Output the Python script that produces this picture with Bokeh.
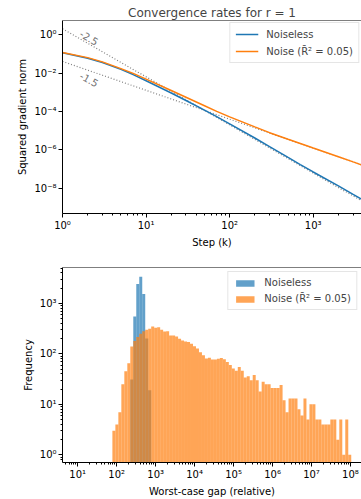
import numpy as np
from bokeh.plotting import figure
from bokeh.layouts import column
from bokeh.models import (FixedTicker, CustomJSTickFormatter, Legend, LegendItem,
                          Span, Range1d, ColumnDataSource)
from bokeh.core.properties import value
from bokeh.embed import file_html
from bokeh.resources import INLINE

# ---------------- data: convergence curves ----------------
steps = [1, 2, 3, 5, 7, 10, 20, 30, 50, 70, 100, 200, 300, 500, 700,
         1000, 2000, 3000, 4000]
noiseless = [0.112, 0.0589, 0.0355, 0.0155, 0.00832, 0.00398, 9.12e-4,
             3.72e-4, 1.17e-4, 5.37e-5, 2.3e-5, 4.2e-6, 1.5e-6, 4.1e-7,
             1.75e-7, 7.2e-8, 1.35e-8, 4.9e-9, 2.45e-9]
noisy = [0.117, 0.0631, 0.038, 0.017, 0.00955, 0.00479, 1.23e-3, 5.5e-4,
         2.0e-4, 1.02e-4, 5.25e-5, 1.58e-5, 7.94e-6, 3.63e-6, 2.19e-6,
         1.26e-6, 4.47e-7, 2.40e-7, 1.55e-7]
ref_steps = [1, 4000]
ref_rate_25 = [2.0, 1.98e-9]
ref_rate_15 = [0.04, 1.58e-7]
ref_labels = ["-2.5", "-1.5"]
ref_label_k = [2.09, 2.09]
ref_label_v = [0.687, 0.00468]

# ---------------- data: histogram ----------------
bin_lo_exp, bin_hi_exp, n_bins = 1.89, 8.02, 80
noise_counts = [3, 4, 7, 25, 45, 65, 140, 180, 215, 250,
                280, 300, 313, 348, 328, 337, 300, 277, 281, 231,
                231, 221, 199, 184, 176, 171, 159, 141, 127, 108,
                94, 81, 84, 77, 77, 80, 83, 78, 69, 60,
                51, 46, 55, 46, 34, 36, 30, 38, 30, 18,
                28, 25, 25, 21, 21, 21, 24, 12, 7, 13,
                13, 13, 8, 6, 13, 5, 10, 10, 5, 5,
                4, 4, 4, 5, 5, 2, 5, 1, 5, 1]
noiseless_first_bin = 6
noiseless_counts = [31, 550, 2400, 3350, 1530, 200, 19]

BLUE = "#1f77b4"
ORANGE = "#ff7f0e"
FONT = "DejaVu Sans"

sup_js = """
const sup = {'0':'\u2070','1':'\u00b9','2':'\u00b2','3':'\u00b3','4':'\u2074',
             '5':'\u2075','6':'\u2076','7':'\u2077','8':'\u2078','9':'\u2079','-':'\u207b'};
const e = Math.round(Math.log10(tick));
return '10' + String(e).split('').map(c => sup[c]).join('');
"""


def minor_list(d0, d1):
    out = []
    for d in range(d0, d1 + 1):
        for m in range(2, 10):
            out.append(m * 10.0 ** d)
    return out


def style_axes(p):
    for ax in (p.xaxis[0], p.yaxis[0]):
        ax.axis_line_color = "black"
        ax.axis_line_width = 1
        ax.major_tick_line_color = "black"
        ax.minor_tick_line_color = "black"
        ax.major_tick_in = 0
        ax.major_tick_out = 4
        ax.minor_tick_in = 0
        ax.minor_tick_out = 2
        ax.major_label_text_font = FONT
        ax.major_label_text_font_size = "10px"
        ax.major_label_text_color = "black"
        ax.axis_label_text_font = FONT
        ax.axis_label_text_font_size = "10px"
        ax.axis_label_text_font_style = "normal"
        ax.axis_label_text_color = "black"
        ax.major_label_standoff = 2
        ax.axis_label_standoff = 3
        ax.formatter = CustomJSTickFormatter(code=sup_js)
    p.xgrid.visible = False
    p.ygrid.visible = False
    p.outline_line_color = None
    p.background_fill_color = "white"
    p.border_fill_color = "white"


def style_legend(leg, glyph_h, margin):
    leg.label_text_font = FONT
    leg.label_text_font_size = "10px"
    leg.glyph_width = 23
    leg.glyph_height = glyph_h
    leg.label_standoff = 8
    leg.padding = 5
    leg.spacing = 5
    leg.margin = margin
    leg.border_line_color = "#cccccc"
    leg.background_fill_alpha = 0.85


# ---------------- top figure ----------------
y1 = (5.0e-10, 5.37)
p1 = figure(width=361, height=250, x_axis_type="log", y_axis_type="log",
            x_range=Range1d(1, 3780), y_range=Range1d(*y1),
            output_backend="svg", toolbar_location=None,
            min_border_left=62, min_border_right=0, min_border_top=20,
            min_border_bottom=33)
p1.title.text = "Convergence rates for r = 1"
p1.title.align = "center"
p1.title.text_font = FONT
p1.title.text_font_size = "12px"
p1.title.text_font_style = "normal"
p1.title.standoff = 2

style_axes(p1)
p1.xaxis.ticker = FixedTicker(ticks=[1, 10, 100, 1000], minor_ticks=minor_list(0, 3))
p1.yaxis.ticker = FixedTicker(ticks=[1, 1e-2, 1e-4, 1e-6, 1e-8], minor_ticks=[])
p1.xaxis.axis_label = "Step (k)"
p1.yaxis.axis_label = "Squared gradient norm"
p1.add_layout(Span(location=y1[1], dimension="width", line_color="black", line_width=1))

p1.line(ref_steps, ref_rate_25, line_color="#808080", line_width=1.2, line_dash="1 2")
p1.line(ref_steps, ref_rate_15, line_color="#808080", line_width=1.2, line_dash="1 2")
p1.text(x=ref_label_k[:1], y=ref_label_v[:1], text=ref_labels[:1], angle=-0.55,
        text_align="center", text_baseline="middle", text_color="#707070",
        text_font=value(FONT), text_font_size="10px")
p1.text(x=ref_label_k[1:], y=ref_label_v[1:], text=ref_labels[1:], angle=-0.5,
        text_align="center", text_baseline="middle", text_color="#707070",
        text_font=value(FONT), text_font_size="10px")
r_blue = p1.line(steps, noiseless, line_color=BLUE, line_width=1.5)
r_orange = p1.line(steps, noisy, line_color=ORANGE, line_width=1.5)

leg1 = Legend(items=[LegendItem(label="Noiseless", renderers=[r_blue]),
                     LegendItem(label="Noise (R\u0304\u00b2 = 0.05)", renderers=[r_orange])],
              location="top_right")
style_legend(leg1, 12, 2)
p1.add_layout(leg1)

# ---------------- bottom figure ----------------
edges = np.logspace(bin_lo_exp, bin_hi_exp, n_bins + 1)
y2 = (0.705, 5117)
p2 = figure(width=361, height=249, x_axis_type="log", y_axis_type="log",
            x_range=Range1d(4.07, 1.92e8), y_range=Range1d(*y2),
            output_backend="svg", toolbar_location=None,
            min_border_left=62, min_border_right=0, min_border_top=17,
            min_border_bottom=36)
style_axes(p2)
p2.xaxis.ticker = FixedTicker(ticks=[10.0 ** d for d in range(1, 9)], minor_ticks=minor_list(0, 8))
p2.yaxis.ticker = FixedTicker(ticks=[1, 10, 100, 1000], minor_ticks=minor_list(-1, 3))
p2.xaxis.axis_label = "Worst-case gap (relative)"
p2.yaxis.axis_label = "Frequency"
p2.add_layout(Span(location=y2[1], dimension="width", line_color="black", line_width=1))

b0 = noiseless_first_bin
src_blue = ColumnDataSource(dict(
    left=edges[b0:b0 + len(noiseless_counts)],
    right=edges[b0 + 1:b0 + 1 + len(noiseless_counts)],
    top=noiseless_counts,
    bottom=[0.3] * len(noiseless_counts)))
src_orange = ColumnDataSource(dict(
    left=edges[:-1], right=edges[1:], top=noise_counts,
    bottom=[0.3] * len(noise_counts)))
h_blue = p2.quad(left="left", right="right", top="top", bottom="bottom", source=src_blue,
                 fill_color=BLUE, fill_alpha=0.7, line_color=None)
h_orange = p2.quad(left="left", right="right", top="top", bottom="bottom", source=src_orange,
                   fill_color=ORANGE, fill_alpha=0.7, line_color=None)

leg2 = Legend(items=[LegendItem(label="Noiseless", renderers=[h_blue]),
                     LegendItem(label="Noise (R\u0304\u00b2 = 0.05)", renderers=[h_orange])],
              location="top_right")
style_legend(leg2, 8, 4)
p2.add_layout(leg2)

layout = column(p1, p2, spacing=0)
open("out.html", "w").write(file_html(layout, INLINE))
